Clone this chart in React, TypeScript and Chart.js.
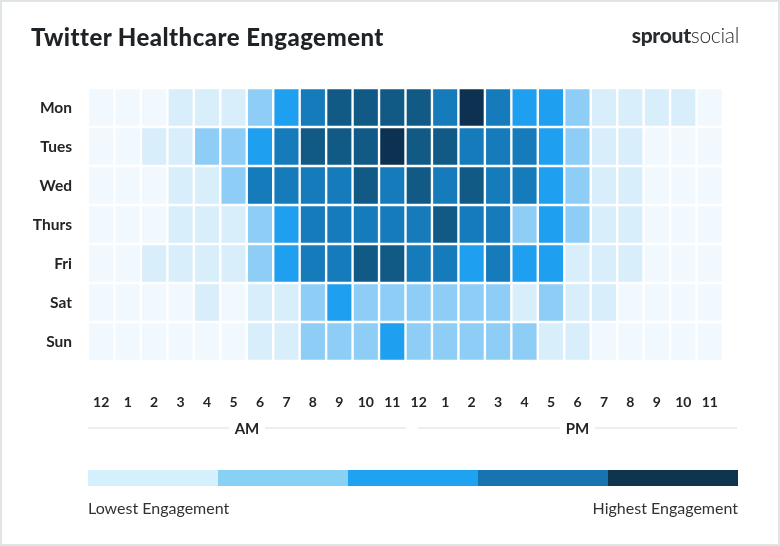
import React, { useEffect, useRef } from 'react';
import { Chart, registerables } from 'chart.js';

Chart.register(...registerables);

const DAYS = ['Mon', 'Tues', 'Wed', 'Thurs', 'Fri', 'Sat', 'Sun'];
const HOURS = ['12', '1', '2', '3', '4', '5', '6', '7', '8', '9', '10', '11', '12', '1', '2', '3', '4', '5', '6', '7', '8', '9', '10', '11'];

// engagement level (0 = lowest ... 6 = highest) per hour, 12AM..11PM
const MON = [0, 0, 0, 1, 1, 1, 2, 3, 4, 5, 5, 5, 5, 4, 6, 4, 3, 3, 2, 1, 1, 1, 1, 0];
const TUES = [0, 0, 1, 1, 2, 2, 3, 4, 5, 5, 5, 6, 5, 5, 4, 4, 4, 3, 2, 1, 1, 0, 0, 0];
const WED = [0, 0, 0, 1, 1, 2, 4, 4, 4, 4, 5, 4, 5, 4, 5, 4, 4, 3, 2, 1, 1, 0, 0, 0];
const THURS = [0, 0, 0, 1, 1, 1, 2, 3, 4, 4, 4, 4, 4, 5, 4, 4, 2, 3, 2, 1, 1, 0, 0, 0];
const FRI = [0, 0, 1, 1, 1, 1, 2, 3, 4, 4, 5, 5, 4, 4, 3, 4, 3, 3, 1, 1, 1, 0, 0, 0];
const SAT = [0, 0, 0, 0, 1, 0, 1, 1, 2, 3, 2, 2, 2, 2, 2, 2, 1, 2, 1, 1, 0, 0, 0, 0];
const SUN = [0, 0, 0, 0, 0, 0, 1, 1, 2, 2, 2, 3, 2, 2, 2, 2, 2, 1, 1, 0, 0, 0, 0, 0];
const ROWS = [MON, TUES, WED, THURS, FRI, SAT, SUN];

const LEVEL_COLORS = ['#f1f9fe', '#d9eefb', '#8ecef6', '#1e9ff0', '#167bbb', '#125a86', '#0d3251'];
const LEGEND_COLORS = ['#d4f0fc', '#89d0f5', '#1fa2f0', '#1874b0', '#0e3450'];

const FONT = 'Lato, "Open Sans", "DejaVu Sans", sans-serif';

export default function App() {
  const ref = useRef<HTMLCanvasElement | null>(null);

  useEffect(() => {
    document.body.style.margin = '0';
    const canvas = ref.current;
    if (!canvas) return;
    const datasets = ROWS.map((row, d) => ({
      label: DAYS[d],
      data: row.map(() => [d - 0.47, d + 0.47]),
      backgroundColor: row.map((l) => LEVEL_COLORS[l]),
      borderWidth: 0,
      grouped: false,
      barPercentage: 0.91,
      categoryPercentage: 1,
    }));
    const chart = new Chart(canvas, {
      type: 'bar',
      data: { labels: HOURS, datasets: datasets as any },
      options: {
        animation: false,
        responsive: false,
        layout: { padding: { left: 0, top: 88, right: 57, bottom: 0 } },
        plugins: { legend: { display: false }, tooltip: { enabled: false }, title: { display: false } },
        scales: {
          x: {
            grid: { display: false, drawTicks: false },
            border: { display: false },
            ticks: {
              font: { family: FONT, size: 14, weight: 'bold' },
              color: '#222426',
              padding: 33,
              maxRotation: 0,
              autoSkip: false,
            },
            afterFit: (s: any) => { s.height = 185; },
          },
          y: {
            type: 'linear',
            min: -0.5,
            max: 6.5,
            reverse: true,
            grid: { display: false, drawTicks: false },
            border: { display: false },
            afterBuildTicks: (s: any) => { s.ticks = DAYS.map((_, i) => ({ value: i })); },
            ticks: {
              font: { family: FONT, size: 15.5, weight: 'bold' },
              color: '#222426',
              padding: 16,
              callback: (v: any) => DAYS[v as number] ?? '',
            },
            afterFit: (s: any) => { s.width = 88; },
          },
        },
      },
    });
    return () => chart.destroy();
  }, []);

  const textBase: React.CSSProperties = { position: 'absolute', fontFamily: FONT, whiteSpace: 'nowrap' };

  return (
    <div style={{ position: 'relative', width: 780, height: 546, background: '#fff', overflow: 'hidden' }}>
      <canvas ref={ref} width={780} height={546} style={{ position: 'absolute', left: 0, top: 0, width: 780, height: 546 }} />
      <div style={{ ...textBase, left: 31, top: 22, fontSize: 24, fontWeight: 900, color: '#1f2326', lineHeight: '30px', letterSpacing: '0.45px' }}>
        Twitter Healthcare Engagement
      </div>
      <div style={{ ...textBase, right: 41, top: 22, fontSize: 21, color: '#2a2d2f', lineHeight: '26px', letterSpacing: '-0.3px' }}>
        <span style={{ fontWeight: 900 }}>sprout</span>
        <span style={{ fontWeight: 300 }}>social</span>
      </div>
      {/* AM / PM dividers */}
      <div style={{ position: 'absolute', left: 88, top: 427, width: 318, height: 2, background: '#eeeeee' }} />
      <div style={{ position: 'absolute', left: 418, top: 427, width: 319, height: 2, background: '#eeeeee' }} />
      <div style={{ ...textBase, left: 88, width: 318, top: 418, textAlign: 'center', lineHeight: '20px' }}>
        <span style={{ background: '#fff', padding: '0 6px', fontSize: 15, fontWeight: 700, color: '#222426' }}>AM</span>
      </div>
      <div style={{ ...textBase, left: 418, width: 319, top: 418, textAlign: 'center', lineHeight: '20px' }}>
        <span style={{ background: '#fff', padding: '0 6px', fontSize: 15, fontWeight: 700, color: '#222426' }}>PM</span>
      </div>
      {/* colour legend */}
      <div style={{ position: 'absolute', left: 88, top: 470, width: 650, height: 16, display: 'flex' }}>
        {LEGEND_COLORS.map((c) => (
          <div key={c} style={{ flex: 1, background: c }} />
        ))}
      </div>
      <div style={{ ...textBase, left: 88, top: 497, fontSize: 16, color: '#2f3335', lineHeight: '22px' }}>Lowest Engagement</div>
      <div style={{ ...textBase, right: 42, top: 497, fontSize: 16, color: '#2f3335', lineHeight: '22px' }}>Highest Engagement</div>
      {/* outer frame */}
      <div style={{ position: 'absolute', left: 0, top: 0, width: 780, height: 546, boxSizing: 'border-box', border: '2px solid #dfe4e5', pointerEvents: 'none' }} />
    </div>
  );
}
